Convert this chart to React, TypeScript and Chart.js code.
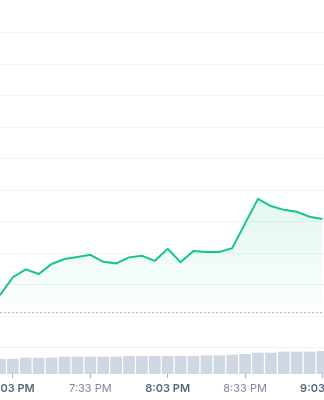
import React, { useEffect, useRef } from 'react';
import { Chart, registerables } from 'chart.js';

Chart.register(...registerables);

// 5-minute sample times
const TIMES = [
  '6:58 PM', '7:03 PM', '7:08 PM', '7:13 PM', '7:18 PM', '7:23 PM', '7:28 PM',
  '7:33 PM', '7:38 PM', '7:43 PM', '7:48 PM', '7:53 PM', '7:58 PM', '8:03 PM',
  '8:08 PM', '8:13 PM', '8:18 PM', '8:23 PM', '8:28 PM', '8:33 PM', '8:38 PM',
  '8:43 PM', '8:48 PM', '8:53 PM', '8:58 PM', '9:03 PM',
];

// price series (arbitrary units, no axis labels visible)
const PRICE = [
  101.67, 102.24, 102.49, 102.34, 102.66, 102.82, 102.88, 102.95, 102.73, 102.68,
  102.87, 102.92, 102.76, 103.14, 102.72, 103.07, 103.04, 103.04, 103.16, 103.95,
  104.73, 104.5, 104.38, 104.32, 104.16, 104.09,
];

// volume series (arbitrary units)
const VOLUME = [
  8.2, 8.2, 8.8, 8.8, 8.8, 9.4, 9.4, 9.4, 9.4, 9.4, 9.7, 9.7, 9.7, 9.7, 9.7, 9.7,
  10.1, 10.1, 10.4, 10.8, 11.5, 11.5, 12.1, 12.1, 12.1, 12.4,
];

const PREV_CLOSE = 101.11;

const TICK_LABELS = ['7:03 PM', '7:33 PM', '8:03 PM', '8:33 PM', '9:03 PM'];

// view window
const X_MIN = -4.651;
const X_MAX = 29.767;
const Y_MIN = 99.164;
const Y_MAX = 110.921;
const VOL_MAX = 200;

const GREEN = '#16c784';

export default function App() {
  const ref = useRef<HTMLCanvasElement | null>(null);

  useEffect(() => {
    if (!ref.current) return;
    const chart = new Chart(ref.current, {
      type: 'line',
      data: {
        datasets: [
          {
            type: 'line',
            data: PRICE.map((y, i) => ({ x: i, y })),
            yAxisID: 'y',
            borderColor: GREEN,
            borderWidth: 2,
            pointRadius: 0,
            tension: 0,
            fill: { value: PREV_CLOSE },
            backgroundColor: (ctx: any) => {
              const c = ctx.chart;
              const area = c.chartArea;
              if (!area) return 'rgba(22,199,132,0.08)';
              const ys = c.scales.y;
              const top = ys.getPixelForValue(Math.max(...PRICE));
              const bot = ys.getPixelForValue(PREV_CLOSE);
              const g = c.ctx.createLinearGradient(0, top, 0, bot);
              g.addColorStop(0, 'rgba(22,199,132,0.13)');
              g.addColorStop(1, 'rgba(22,199,132,0.01)');
              return g;
            },
            order: 1,
          } as any,
          {
            type: 'line',
            data: [
              { x: X_MIN, y: PREV_CLOSE },
              { x: X_MAX, y: PREV_CLOSE },
            ],
            yAxisID: 'y',
            borderColor: '#a6b0c3',
            borderWidth: 1,
            borderDash: [2, 2],
            pointRadius: 0,
            fill: false,
            order: 2,
          } as any,
          {
            type: 'bar',
            data: VOLUME.map((v, i) => ({ x: i, y: v })),
            yAxisID: 'yVol',
            backgroundColor: '#cfd6e4',
            categoryPercentage: 0.9,
            barPercentage: 1,
            order: 3,
          } as any,
        ],
      },
      options: {
        animation: false,
        responsive: false,
        layout: { padding: { top: 4, left: 0, right: 0, bottom: 0 } },
        plugins: {
          legend: { display: false },
          tooltip: { enabled: false },
        },
        scales: {
          x: {
            type: 'linear',
            min: X_MIN,
            max: X_MAX,
            offset: false,
            afterBuildTicks: (s: any) => {
              s.ticks = TICK_LABELS.map((t) => ({ value: TIMES.indexOf(t) }));
            },
            afterFit: (s: any) => {
              s.height = 26;
            },
            grid: {
              drawOnChartArea: false,
              drawTicks: true,
              tickLength: 4,
              color: '#a6b0c3',
              offset: false,
            },
            border: { display: false },
            ticks: {
              autoSkip: false,
              maxRotation: 0,
              padding: 4,
              callback: (v: any) => TIMES[v],
              font: (ctx: any) => {
                const lbl = TIMES[ctx.tick?.value] || '';
                return {
                  family: 'Inter',
                  size: 11,
                  weight: lbl.includes(':03') ? '600' : '400',
                };
              },
              color: (ctx: any) => {
                const lbl = TIMES[ctx.tick?.value] || '';
                return lbl.includes(':03') ? '#58667e' : '#808a9d';
              },
            },
          } as any,
          y: {
            type: 'linear',
            position: 'left',
            min: Y_MIN,
            max: Y_MAX,
            ticks: { display: false, stepSize: 1, includeBounds: false },
            grid: { color: '#eff2f5', drawTicks: false, lineWidth: 1 },
            border: { display: false },
          } as any,
          yVol: {
            type: 'linear',
            position: 'right',
            display: false,
            min: 0,
            max: VOL_MAX,
          },
        },
      },
    });
    return () => chart.destroy();
  }, []);

  return (
    <div
      style={{
        position: 'fixed',
        left: 0,
        top: 0,
        width: 324,
        height: 400,
        overflow: 'hidden',
        background: '#fff',
      }}
    >
      <canvas
        ref={ref}
        width={444}
        height={400}
        style={{ position: 'absolute', left: -60, top: 0, width: 444, height: 400 }}
      />
    </div>
  );
}
